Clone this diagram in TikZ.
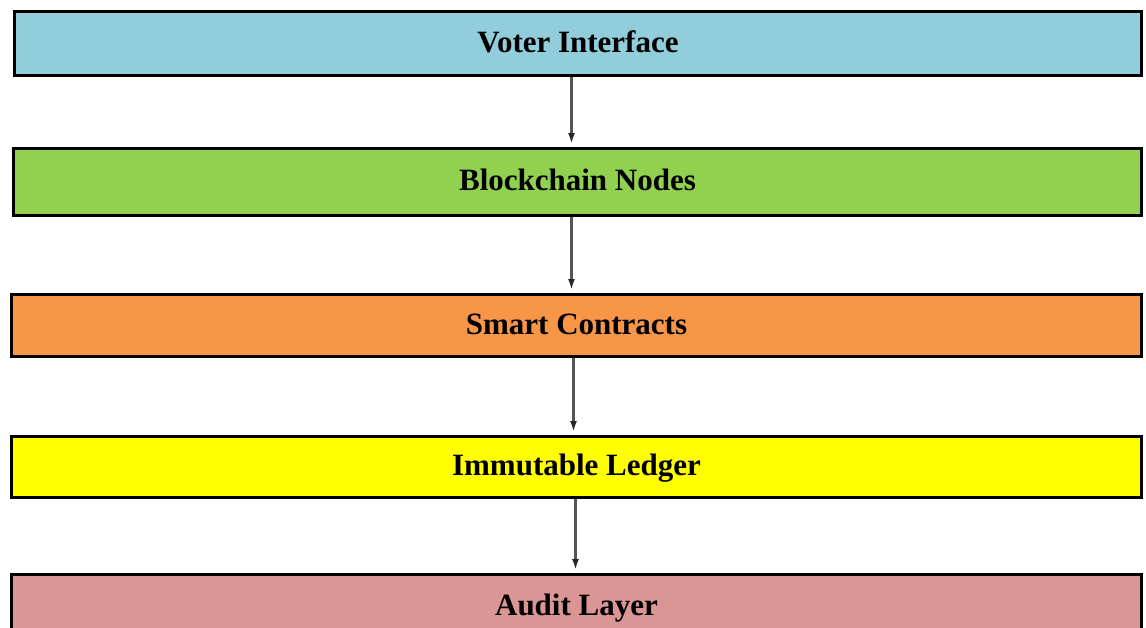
\documentclass[tikz,border=0pt]{standalone}
\usepackage{fontspec}
\setmainfont{Liberation Serif}
\usetikzlibrary{arrows.meta}
\definecolor{voterblue}{HTML}{92CDDC}
\definecolor{chaingreen}{HTML}{92D050}
\definecolor{contractorange}{HTML}{F79646}
\definecolor{ledgeryellow}{HTML}{FFFF00}
\definecolor{auditrose}{HTML}{DA9694}
\definecolor{linkgray}{HTML}{555555}
\tikzset{
  layer/.style={draw=black, line width=3pt, rectangle, inner sep=0pt,
    font=\fontsize{31}{36}\selectfont\bfseries,
    text height=22pt, text depth=5pt},
  link/.style={draw=linkgray, line width=2.2pt,
    -{Latex[length=11pt,width=7pt,fill=black!85,color=black!85]}, shorten >=3pt}
}
\begin{document}
\begin{tikzpicture}[x=1pt,y=-1pt]
\path[use as bounding box, clip] (0,0) rectangle (1146,627);
\fill[white] (0,0) rectangle (1146,627);

\node[layer, fill=voterblue, minimum width=1127pt, minimum height=64pt]
  (voter) at (578,43.5) {Voter Interface};
\node[layer, fill=chaingreen, minimum width=1128pt, minimum height=67pt]
  (nodes) at (577.5,182) {Blockchain Nodes};
\node[layer, fill=contractorange, minimum width=1130pt, minimum height=62pt]
  (contracts) at (576.5,325.5) {Smart Contracts};
\node[layer, fill=ledgeryellow, minimum width=1130pt, minimum height=61pt]
  (ledger) at (576.5,467) {Immutable Ledger};
\node[layer, fill=auditrose, minimum width=1130pt, minimum height=64pt]
  (audit) at (576.5,606.5) {Audit Layer};

\draw[link] (voter.south -| 571.5,0) -- (nodes.north -| 571.5,0);
\draw[link] (nodes.south -| 571.5,0) -- (contracts.north -| 571.5,0);
\draw[link] (contracts.south -| 573.5,0) -- (ledger.north -| 573.5,0);
\draw[link] (ledger.south -| 575.5,0) -- (audit.north -| 575.5,0);
\end{tikzpicture}
\end{document}
